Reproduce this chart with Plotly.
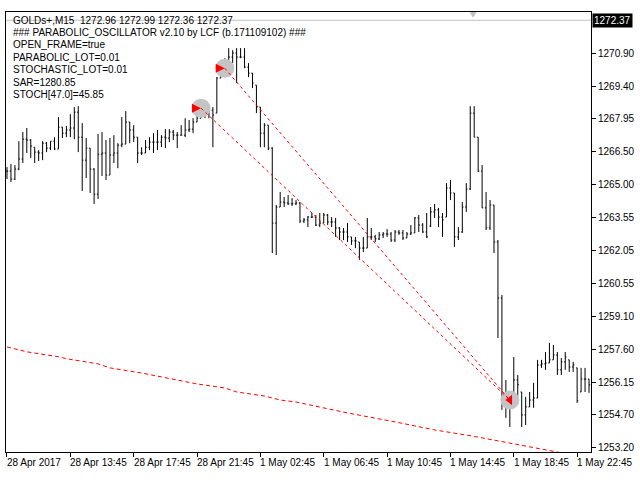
import plotly.graph_objects as go

# GOLDs+ M15 bars
opens = [
    1265.61, 1265.61, 1265.25, 1265.70, 1266.15, 1267.04, 1267.00, 1266.68, 1266.46, 1266.42,
    1266.86, 1266.64, 1266.95, 1266.60, 1267.58, 1267.31, 1267.45, 1267.54, 1268.25, 1267.13,
    1266.10, 1266.64, 1265.70, 1264.58, 1266.37, 1266.42, 1265.43, 1266.33, 1266.42, 1266.77,
    1266.82, 1267.81, 1267.45, 1267.13, 1266.42, 1266.42, 1266.68, 1266.91, 1266.91, 1266.91,
    1267.13, 1267.09, 1267.36, 1267.22, 1267.22, 1267.22, 1267.45, 1267.49, 1267.81, 1267.98,
    1268.48, 1268.34, 1268.34, 1268.21, 1269.78, 1270.27, 1270.22, 1270.72, 1270.90, 1270.72,
    1270.72, 1270.27, 1270.00, 1269.46, 1268.48, 1267.31, 1267.67, 1266.64, 1263.28, 1264.00,
    1264.22, 1264.18, 1264.14, 1264.14, 1264.18, 1263.37, 1263.42, 1263.55, 1263.55, 1263.19,
    1263.28, 1263.64, 1263.33, 1263.33, 1263.06, 1262.88, 1262.88, 1262.66, 1262.48, 1262.43,
    1262.16, 1262.16, 1262.66, 1262.66, 1262.57, 1262.75, 1262.79, 1262.79, 1262.52, 1262.88,
    1262.84, 1262.61, 1262.79, 1262.84, 1263.51, 1263.19, 1262.88, 1263.15, 1263.78, 1263.87,
    1263.55, 1263.55, 1264.85, 1264.63, 1262.66, 1262.88, 1264.00, 1264.81, 1268.21, 1267.13,
    1265.61, 1263.96, 1263.06, 1264.09, 1262.43, 1259.92, 1255.44, 1255.35, 1255.13, 1256.25,
    1255.71, 1254.68, 1255.04, 1255.35, 1255.44, 1256.92, 1256.97, 1257.01, 1257.15, 1257.37,
    1256.70, 1257.06, 1257.15, 1256.83, 1256.79, 1255.71, 1256.29, 1256.29,
]
highs = [
    1265.79, 1265.93, 1265.88, 1266.95, 1267.36, 1267.54, 1267.04, 1266.68, 1266.55, 1266.95,
    1266.91, 1266.95, 1267.13, 1268.03, 1267.58, 1267.63, 1268.16, 1268.48, 1268.52, 1267.76,
    1267.09, 1266.64, 1265.74, 1267.27, 1267.36, 1267.00, 1267.09, 1267.22, 1266.86, 1268.03,
    1268.30, 1267.81, 1267.67, 1267.13, 1266.68, 1267.00, 1267.13, 1267.31, 1267.45, 1267.22,
    1267.49, 1267.49, 1267.45, 1267.36, 1267.67, 1267.98, 1267.90, 1267.98, 1268.57, 1268.79,
    1268.57, 1268.48, 1268.48, 1269.82, 1270.58, 1270.67, 1271.12, 1271.03, 1271.12, 1271.12,
    1271.12, 1270.45, 1270.00, 1269.46, 1268.48, 1267.76, 1267.67, 1266.68, 1264.09, 1264.67,
    1264.45, 1264.54, 1264.40, 1264.31, 1264.22, 1263.51, 1263.60, 1263.73, 1263.64, 1263.73,
    1263.73, 1263.69, 1263.55, 1263.51, 1263.10, 1263.06, 1263.28, 1262.66, 1262.66, 1262.43,
    1262.66, 1263.51, 1263.06, 1262.75, 1262.88, 1262.88, 1263.01, 1262.88, 1262.97, 1262.97,
    1262.97, 1262.88, 1263.19, 1263.55, 1263.64, 1263.28, 1263.73, 1264.00, 1264.14, 1263.96,
    1263.73, 1265.07, 1265.21, 1264.63, 1263.10, 1264.22, 1265.07, 1268.52, 1268.52, 1267.13,
    1265.88, 1264.67, 1264.31, 1264.09, 1262.52, 1260.06, 1256.25, 1255.58, 1257.28, 1256.47,
    1255.71, 1255.49, 1255.71, 1256.12, 1257.15, 1257.15, 1257.50, 1257.91, 1257.82, 1257.50,
    1257.23, 1257.50, 1257.15, 1257.06, 1256.79, 1256.79, 1256.79, 1256.29,
]
lows = [
    1265.25, 1265.12, 1265.21, 1265.65, 1265.97, 1266.42, 1266.19, 1265.97, 1266.06, 1266.10,
    1266.46, 1266.55, 1266.55, 1266.60, 1267.09, 1267.13, 1267.13, 1267.04, 1266.46, 1264.72,
    1265.30, 1264.63, 1264.14, 1264.36, 1265.39, 1265.21, 1265.43, 1265.97, 1265.74, 1266.68,
    1266.82, 1266.86, 1266.91, 1265.97, 1266.33, 1266.42, 1266.55, 1266.42, 1266.55, 1266.68,
    1266.64, 1266.91, 1267.00, 1266.64, 1267.22, 1267.13, 1267.36, 1267.31, 1267.81, 1267.98,
    1267.98, 1267.98, 1266.68, 1268.21, 1269.78, 1270.05, 1269.91, 1270.45, 1269.56, 1270.67,
    1270.22, 1269.82, 1269.33, 1268.21, 1266.68, 1266.68, 1266.55, 1261.94, 1261.85, 1264.00,
    1264.00, 1264.09, 1264.05, 1264.09, 1263.28, 1263.28, 1263.10, 1263.51, 1263.15, 1263.10,
    1263.28, 1263.19, 1263.10, 1262.66, 1262.52, 1262.52, 1262.43, 1262.30, 1262.16, 1261.63,
    1261.98, 1262.16, 1262.52, 1262.43, 1262.52, 1262.61, 1262.66, 1262.43, 1262.43, 1262.75,
    1262.52, 1262.61, 1262.75, 1262.84, 1262.88, 1262.84, 1262.61, 1263.10, 1263.51, 1263.10,
    1262.66, 1263.55, 1264.31, 1262.21, 1262.52, 1262.84, 1263.78, 1264.76, 1267.13, 1265.57,
    1263.96, 1262.97, 1262.97, 1261.94, 1258.13, 1254.91, 1254.55, 1254.14, 1255.13, 1255.49,
    1254.14, 1254.23, 1255.04, 1255.00, 1255.44, 1256.79, 1256.70, 1257.01, 1257.15, 1256.47,
    1256.47, 1256.70, 1256.61, 1256.61, 1255.22, 1255.71, 1255.71, 1255.67,
]
closes = [
    1265.61, 1265.25, 1265.70, 1266.15, 1267.04, 1267.00, 1266.73, 1266.46, 1266.42, 1266.86,
    1266.64, 1266.95, 1266.60, 1267.58, 1267.31, 1267.45, 1267.54, 1268.25, 1267.13, 1266.10,
    1266.64, 1265.70, 1264.58, 1266.37, 1266.42, 1265.43, 1266.33, 1266.42, 1266.77, 1266.82,
    1267.81, 1267.45, 1267.13, 1266.42, 1266.42, 1266.68, 1266.91, 1266.91, 1266.91, 1267.13,
    1267.09, 1267.36, 1267.22, 1267.22, 1267.22, 1267.45, 1267.49, 1267.81, 1267.98, 1268.48,
    1268.34, 1268.34, 1268.12, 1269.78, 1270.27, 1270.22, 1270.72, 1270.90, 1270.72, 1270.72,
    1270.27, 1270.00, 1269.56, 1268.48, 1267.31, 1267.67, 1266.64, 1263.28, 1264.00, 1264.22,
    1264.18, 1264.14, 1264.14, 1264.18, 1263.37, 1263.42, 1263.55, 1263.55, 1263.19, 1263.28,
    1263.64, 1263.33, 1263.33, 1263.06, 1262.88, 1262.88, 1262.66, 1262.48, 1262.48, 1262.16,
    1262.16, 1262.66, 1262.66, 1262.57, 1262.75, 1262.79, 1262.79, 1262.52, 1262.88, 1262.84,
    1262.61, 1262.79, 1262.84, 1263.51, 1263.19, 1262.88, 1262.66, 1263.78, 1263.87, 1263.55,
    1263.42, 1264.85, 1264.63, 1262.66, 1262.88, 1264.00, 1264.81, 1268.21, 1267.13, 1265.61,
    1263.96, 1263.06, 1264.09, 1262.43, 1259.92, 1255.44, 1255.35, 1255.13, 1256.25, 1256.03,
    1254.68, 1255.04, 1255.35, 1255.44, 1256.92, 1256.97, 1257.01, 1257.15, 1257.37, 1256.70,
    1257.06, 1257.28, 1256.83, 1256.92, 1255.31, 1256.29, 1256.29, 1256.03,
]

# slow red dashed line at the bottom (bar index, price)
slow_bars = [0, 5, 13, 15, 23, 26, 34, 39, 45, 48, 55, 58, 65, 69, 73, 86, 98, 108, 118, 123, 128, 137, 147]
slow_vals = [1257.73, 1257.51, 1257.29, 1257.20, 1256.97, 1256.79, 1256.56, 1256.38, 1256.16, 1256.07,
             1255.89, 1255.71, 1255.53, 1255.35, 1255.26, 1254.77, 1254.37, 1254.01, 1253.72, 1253.55,
             1253.40, 1253.08, 1252.75]

# parabolic signal points: two entries and the common exit
sig_bars = [49, 55]
sig_prices = [1268.43, 1270.22]
exit_bar = 127
exit_price = 1255.35

bid = 1272.37
header = [
    "GOLDs+,M15  1272.96 1272.99 1272.36 1272.37",
    "### PARABOLIC_OSCILLATOR v2.10 by LCF (b.171109102) ###",
    "OPEN_FRAME=true",
    "PARABOLIC_LOT=0.01",
    "STOCHASTIC_LOT=0.01",
    "SAR=1280.85",
    "STOCH[47.0]=45.85",
]
y_ticks = [1270.90, 1269.40, 1267.95, 1266.50, 1265.00, 1263.55, 1262.05,
           1260.55, 1259.10, 1257.60, 1256.15, 1254.70, 1253.20]
x_tick_bars = [0, 16, 32, 48, 64, 80, 96, 112, 128, 144]
x_tick_labels = ["28 Apr 2017", "28 Apr 13:45", "28 Apr 17:45", "28 Apr 21:45", "1 May 02:45",
                 "1 May 06:45", "1 May 10:45", "1 May 14:45", "1 May 18:45", "1 May 22:45"]

FONT = "Liberation Sans"


def make_chart():
    bars = list(range(len(closes)))
    fig = go.Figure()

    fig.add_trace(go.Scatter(x=[-1, 200], y=[bid, bid], mode="lines",
                             line=dict(color="#c0c0c0", width=1), hoverinfo="skip"))

    fig.add_trace(go.Scatter(x=slow_bars, y=slow_vals, mode="lines",
                             line=dict(color="#ff0000", width=1, dash="4px,3px")))

    # gray halos sit behind the bars
    fig.add_trace(go.Scatter(x=sig_bars + [exit_bar], y=sig_prices + [exit_price], mode="markers",
                             marker=dict(size=19, color="#c4c4c4")))

    for b, p in zip(sig_bars, sig_prices):
        fig.add_trace(go.Scatter(x=[b, exit_bar], y=[p, exit_price], mode="lines",
                                 line=dict(color="#ff0000", width=1, dash="3px,3px")))

    fig.add_trace(go.Ohlc(
        x=bars, open=opens, high=highs, low=lows, close=closes,
        increasing=dict(line=dict(color="black", width=1)),
        decreasing=dict(line=dict(color="black", width=1)),
        tickwidth=0.3,
    ))

    fig.add_trace(go.Scatter(x=sig_bars, y=sig_prices, mode="markers",
                             marker=dict(size=9, color="#ff0000", symbol="arrow-right")))
    fig.add_trace(go.Scatter(x=[exit_bar], y=[exit_price], mode="markers",
                             marker=dict(size=9, color="#ff0000", symbol="triangle-left")))

    annotations = []
    for i, line in enumerate(header):
        annotations.append(dict(text=line, xref="paper", yref="paper", x=0.0085, y=1,
                                xanchor="left", yanchor="middle", yshift=-8 - 12.4 * i,
                                showarrow=False, font=dict(family=FONT, size=10, color="black")))
    for b, lab in zip(x_tick_bars, x_tick_labels):
        annotations.append(dict(text=lab, xref="x", yref="paper", x=b, y=0,
                                xanchor="left", yanchor="top", xshift=-2, yshift=-3,
                                showarrow=False, font=dict(family=FONT, size=10, color="black")))
    annotations.append(dict(text="1272.37", xref="paper", yref="y", x=1, y=bid,
                            xanchor="left", yanchor="middle", xshift=1, showarrow=False,
                            bgcolor="black", borderpad=1,
                            font=dict(family=FONT, size=10, color="white")))

    fig.update_layout(
        width=640, height=480,
        margin=dict(l=5, r=44, t=12, b=28),
        paper_bgcolor="white", plot_bgcolor="white",
        showlegend=False,
        annotations=annotations,
        shapes=[dict(type="path", xref="paper", yref="paper",
                     path="M 0.7925 1 L 0.8045 1 L 0.7985 0.987 Z",
                     fillcolor="#c0c0c0", line=dict(width=0))],
        xaxis=dict(range=[-0.25, 147.5], showgrid=False, zeroline=False,
                   rangeslider=dict(visible=False),
                   tickvals=x_tick_bars, ticktext=[""] * len(x_tick_bars),
                   ticks="outside", ticklen=4, tickcolor="black",
                   showline=True, linecolor="black", linewidth=1, mirror=True),
        yaxis=dict(range=[1253.02, 1272.74], side="right", showgrid=False, zeroline=False,
                   tickvals=y_ticks, ticktext=[f"{v:.2f}" for v in y_ticks],
                   ticks="outside", ticklen=4, tickcolor="black",
                   tickfont=dict(family=FONT, size=10, color="black"),
                   showline=True, linecolor="black", linewidth=1, mirror=True),
    )
    return fig


def main():
    fig = make_chart()
    # the page body has a default 8px margin; drop it so the chart sits at 0,0
    fig.write_html("out.html", config={"displayModeBar": False},
                   post_script="document.body.style.margin='0';")


if __name__ == "__main__":
    main()
